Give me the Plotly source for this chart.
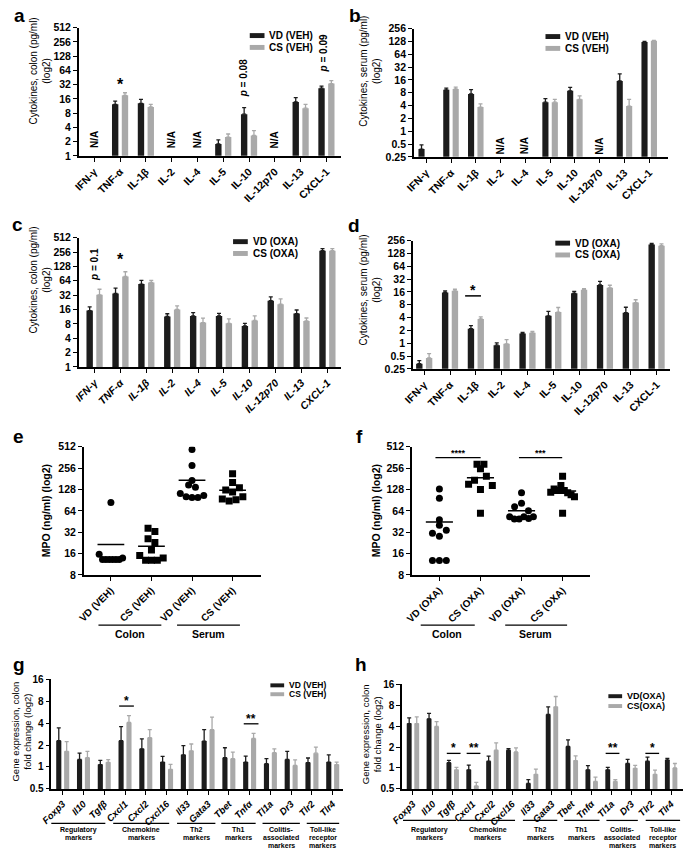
import numpy as np
import plotly.graph_objects as go

W, H = 685, 857
FONT = "Liberation Sans, Arial, Helvetica, sans-serif"
DARK = "#1c1c1c"
LIGHT = "#a9a9a9"

# ---------------------------------------------------------------- data
cytokines = ["IFN-γ", "TNF-α", "IL-1β", "IL-2", "IL-4", "IL-5", "IL-10", "IL-12p70", "IL-13", "CXCL-1"]

# a: colon, vehicle
colon_veh_vd = [None, 12.3, 12.9, None, None, 1.78, 7.6, None, 13.8, 27.0]
colon_veh_vd_err = [0, 2.0, 2.8, 0, 0, 0.4, 2.9, 0, 3.2, 2.7]
colon_veh_cs = [None, 19.0, 10.8, None, None, 2.5, 2.7, None, 10.2, 33.8]
colon_veh_cs_err = [0, 2.6, 1.5, 0, 0, 0.4, 0.7, 0, 2.1, 5.0]
colon_veh_na = ["IFN-γ", "IL-2", "IL-4", "IL-12p70"]

# b: serum, vehicle
serum_veh_vd = [0.38, 9.4, 7.5, None, None, 4.8, 8.9, None, 15.2, 124]
serum_veh_vd_err = [0.1, 0.9, 2.0, 0, 0, 1.0, 1.8, 0, 7.0, 4]
serum_veh_cs = [None, 9.8, 3.7, None, None, 4.8, 5.6, None, 3.9, 133]
serum_veh_cs_err = [0, 1.0, 0.7, 0, 0, 0.8, 1.2, 0, 1.7, 3]
serum_veh_na = ["IL-2", "IL-4", "IL-12p70"]

# c: colon, oxaliplatin
colon_oxa_vd = [15.2, 34.7, 54.5, 11.4, 11.7, 11.7, 7.2, 24.5, 13.1, 273]
colon_oxa_vd_err = [3, 10, 11, 1.6, 2, 1.5, 1.0, 5, 2.5, 30]
colon_oxa_cs = [32.5, 79, 59, 16, 8.5, 8.2, 9.4, 20.6, 9.2, 273]
colon_oxa_cs_err = [10, 20, 6, 3, 2, 2, 2.3, 6, 1.4, 30]

# d: serum, oxaliplatin
serum_oxa_vd = [0.33, 15.6, 2.2, 0.9, 1.7, 4.4, 14.9, 23.3, 5.2, 207]
serum_oxa_vd_err = [0.06, 1.4, 0.4, 0.12, 0.1, 1.2, 1.6, 5, 1.8, 15]
serum_oxa_cs = [0.45, 17, 3.7, 0.97, 1.75, 5.4, 18, 20, 9, 195]
serum_oxa_cs_err = [0.12, 1.5, 0.45, 0.25, 0.15, 1.5, 1.2, 3, 1.5, 20]

# e: MPO, vehicle  (groups: colon VD, colon CS, serum VD, serum CS)
mpo_groups_veh = ["VD (VEH)", "CS (VEH)", "VD (VEH)", "CS (VEH)"]
mpo_colon_veh_vd = [84, 15.6, 13.2, 13.2, 13.2, 13.2, 13.2, 13.2, 13.8]
mpo_colon_veh_cs = [36.3, 32.7, 25.8, 22.9, 17.9, 15, 12.9, 12.9, 12.9, 13.8]
mpo_serum_veh_vd = [470, 279, 171, 148, 138, 112, 101, 98.6, 98.6, 105]
mpo_serum_veh_cs = [213, 161, 125.5, 117.6, 135, 94, 88, 92, 101]

# f: MPO, oxaliplatin
mpo_groups_oxa = ["VD (OXA)", "CS (OXA)", "VD (OXA)", "CS (OXA)"]
mpo_colon_oxa_vd = [130, 96, 48, 40, 31, 28, 34, 12.8, 12.8, 12.8]
mpo_colon_oxa_cs = [290, 290, 250, 151, 172, 128, 196, 146, 59]
mpo_serum_oxa_vd = [115, 73, 82, 64, 53, 49, 49, 53, 50, 53]
mpo_serum_oxa_cs = [196, 117, 130, 124, 146, 124, 115, 108, 101, 59]

# g / h: colon gene expression
genes = ["Foxp3", "Il10", "Tgfβ", "Cxcl1", "Cxcl2", "Cxcl16", "Il33", "Gata3", "Tbet", "Tnfα", "Tl1a", "Dr3", "Tlr2", "Tlr4"]
gene_groups = [["Regulatory", "markers"], ["Chemokine", "markers"], ["Th2", "markers"], ["Th1", "markers"],
               ["Colitis-", "associated", "markers"], ["Toll-like", "receptor", "markers"]]

genes_veh_vd = [2.3, 1.27, 1.08, 2.3, 1.78, 1.17, 1.47, 2.27, 1.34, 1.17, 1.11, 1.27, 1.15, 1.17]
genes_veh_vd_err = [1.15, 0.28, 0.15, 1.3, 0.65, 0.23, 0.5, 1.0, 0.5, 0.24, 0.19, 0.37, 0.18, 0.3]
genes_veh_cs = [1.64, 1.34, 1.16, 4.1, 2.53, 0.93, 1.67, 3.26, 1.3, 2.47, 1.57, 1.05, 1.55, 1.08]
genes_veh_cs_err = [0.6, 0.3, 0.1, 1.0, 0.73, 0.16, 0.4, 1.6, 0.3, 0.43, 0.21, 0.2, 0.33, 0.09]

genes_oxa_vd = [4.36, 5.1, 1.19, 0.94, 1.25, 1.8, 0.6, 5.9, 2.04, 0.94, 0.94, 1.16, 1.25, 1.3]
genes_oxa_vd_err = [0.9, 1.0, 0.1, 0.16, 0.23, 0.1, 0.08, 1.7, 0.5, 0.14, 0.08, 0.17, 0.18, 0.07]
genes_oxa_cs = [4.36, 3.96, 0.94, 0.55, 1.8, 1.7, 0.81, 7.6, 1.28, 0.64, 0.64, 0.99, 0.81, 1.0]
genes_oxa_cs_err = [1.1, 0.7, 0.08, 0.07, 0.5, 0.25, 0.15, 3.1, 0.21, 0.1, 0.04, 0.1, 0.12, 0.16]

# ---------------------------------------------------------------- layout geometry (pixels)
P = {
    "a": dict(n="",  xpx=(68, 335),  ypx=(22, 152),  yr=(1, 512),    xr=(-0.6, 9.57)),
    "b": dict(n="2", xpx=(409, 668), ypx=(23, 153),  yr=(0.25, 256), xr=(-0.5, 9.77)),
    "c": dict(n="3", xpx=(68, 335),  ypx=(235, 366), yr=(1, 512),    xr=(-0.61, 9.53)),
    "d": dict(n="4", xpx=(408, 670), ypx=(238, 368), yr=(0.25, 256), xr=(-0.44, 9.53)),
    "e": dict(n="5", xpx=(73, 253),  ypx=(447, 577), yr=(8, 512),    xr=(0.33, 4.69)),
    "f": dict(n="6", xpx=(407, 588), ypx=(447, 577), yr=(8, 512),    xr=(0.33, 4.66)),
    "g": dict(n="7", xpx=(40, 337),  ypx=(683, 794), yr=(0.5, 16),   xr=(-0.55, 13.5)),
    "h": dict(n="8", xpx=(397, 683), ypx=(688, 794), yr=(0.5, 16),   xr=(-0.55, 13.6)),
}


def X(px):
    return px / W


def Y(py):
    return 1 - py / H


def cx(p, v):
    l, r = P[p]["xpx"]
    r0, r1 = P[p]["xr"]
    return l + (v - r0) / (r1 - r0) * (r - l)


def vy(p, v):
    t, b = P[p]["ypx"]
    lo, hi = P[p]["yr"]
    f = (np.log2(v) - np.log2(lo)) / (np.log2(hi) - np.log2(lo))
    return b - f * (b - t)


def fmt(v):
    return str(int(v)) if v >= 1 else ("%g" % v)


fig = go.Figure()
layout = dict(
    width=W, height=H, margin=dict(l=0, r=0, t=0, b=0),
    paper_bgcolor="white", plot_bgcolor="white", showlegend=False,
    barmode="group", bargap=0.24, bargroupgap=0.35, hovermode=False,
    font=dict(family=FONT, color="black"),
)
annotations = []
shapes = []


def ann(x, y, text, size=10, bold=True, angle=0, xa="center", ya="middle", italic=False):
    annotations.append(dict(
        x=X(x), y=Y(y), xref="paper", yref="paper", text=text, showarrow=False,
        textangle=angle, xanchor=xa, yanchor=ya,
        font=dict(family=FONT, size=size, color="black",
                  weight="bold" if bold else "normal", style="italic" if italic else "normal")))


def hline(x0, x1, y, w=1.5):
    shapes.append(dict(type="line", xref="paper", yref="paper", x0=X(x0), x1=X(x1), y0=Y(y), y1=Y(y),
                       line=dict(color="black", width=w)))


def setup_axes(p, categorical=True, xtickvals=None, xticktext=None, xfont=10.5, xitalic=False, ytfont=10.5):
    n = P[p]["n"]
    lo, hi = P[p]["yr"]
    yt = [lo * 2 ** k for k in range(int(round(np.log2(hi / lo))) + 1)]
    xd = [X(P[p]["xpx"][0]), X(P[p]["xpx"][1])]
    yd = [Y(P[p]["ypx"][1]), Y(P[p]["ypx"][0])]
    common = dict(showline=True, linecolor="black", linewidth=1.5, ticks="outside", ticklen=4,
                  tickwidth=1.3, tickcolor="black", showgrid=False, zeroline=False)
    xa = dict(domain=xd, anchor="y" + n, range=list(P[p]["xr"]), tickangle=-45,
              tickfont=dict(family=FONT, size=xfont, weight="bold", style="italic" if xitalic else "normal"),
              **common)
    if categorical:
        xa["type"] = "category"
    else:
        xa.update(type="linear", tickvals=xtickvals, ticktext=xticktext)
    ya = dict(domain=yd, anchor="x" + n, type="log", range=[np.log10(lo), np.log10(hi)],
              tickvals=yt, ticktext=[fmt(v) for v in yt],
              tickfont=dict(family=FONT, size=ytfont, weight="bold"), **common)
    layout["xaxis" + n] = xa
    layout["yaxis" + n] = ya


def bars(p, cats, vd, vd_err, cs, cs_err, names):
    n = P[p]["n"]
    for vals, errs, col, name in ((vd, vd_err, DARK, names[0]), (cs, cs_err, LIGHT, names[1])):
        fig.add_trace(go.Bar(
            x=cats, y=vals, name=name, marker=dict(color=col, line=dict(width=0)),
            error_y=dict(type="data", array=errs, arrayminus=[0] * len(errs), symmetric=False,
                         color=col, thickness=1.3, width=2),
            xaxis="x" + n, yaxis="y" + n))


def legend(swx, ys, names, size=10.5, sw=15, sh=5):
    for yc, name, col in zip(ys, names, (DARK, LIGHT)):
        shapes.append(dict(type="rect", xref="paper", yref="paper", x0=X(swx), x1=X(swx + sw),
                           y0=Y(yc + sh / 2), y1=Y(yc - sh / 2), fillcolor=col, line=dict(width=0)))
        ann(swx + sw + 3, yc, name, size=size, xa="left")


def swarm(vals, ppu_y=21.6, ppu_x=41.5, tol=4.5, step=7.0, maxw=24.0):
    v = np.asarray(vals, float)
    order = np.argsort(-v, kind="stable")
    ly = np.log2(v) * ppu_y
    clusters = []
    for i in order:
        if clusters and abs(ly[clusters[-1][-1]] - ly[i]) < tol:
            clusters[-1].append(i)
        else:
            clusters.append([i])
    off = np.zeros(len(v))
    for c in clusters:
        c = sorted(c)
        if len(c) > 1:
            w = min(step * (len(c) - 1), maxw)
            for k, xo in zip(c, np.linspace(-w / 2, w / 2, len(c))):
                off[k] = xo / ppu_x
    return off


def dots(p, groups):
    n = P[p]["n"]
    for gi, (vals, sym) in enumerate(groups, start=1):
        off = swarm(vals)
        fig.add_trace(go.Scatter(x=gi + off, y=vals, mode="markers",
                                 marker=dict(symbol=sym, size=7, color="black", line=dict(width=0)),
                                 xaxis="x" + n, yaxis="y" + n))
        m = float(np.mean(vals))
        fig.add_trace(go.Scatter(x=[gi - 0.33, gi + 0.33], y=[m, m], mode="lines",
                                 line=dict(color="black", width=1.5), xaxis="x" + n, yaxis="y" + n))


# ---------------------------------------------------------------- panel a
setup_axes("a")
bars("a", cytokines, colon_veh_vd, colon_veh_vd_err, colon_veh_cs, colon_veh_cs_err, ["VD (VEH)", "CS (VEH)"])
for c in colon_veh_na:
    ann(cx("a", cytokines.index(c)), vy("a", 2.2), "N/A", angle=-90)
ann(cx("a", 1), 80, "*", size=16)
ann(cx("a", 6) - 6, vy("a", 44), "<i>p</i> = 0.08", angle=-90)
ann(cx("a", 9) - 3, vy("a", 150), "<i>p</i> = 0.09", angle=-90)
legend(242, [30, 42], ["VD (VEH)", "CS (VEH)"], size=10)
ann(29, 66, "Cytokines, colon (pg/ml)<br>(log2)", size=10, bold=False, angle=-90)

# ---------------------------------------------------------------- panel b
setup_axes("b")
bars("b", cytokines, serum_veh_vd, serum_veh_vd_err, serum_veh_cs, serum_veh_cs_err, ["VD (VEH)", "CS (VEH)"])
for c in serum_veh_na:
    ann(cx("b", cytokines.index(c)), vy("b", 0.45), "N/A", angle=-90)
legend(543, [31, 43], ["VD (VEH)", "CS (VEH)"], size=10)
ann(364, 66, "Cytokines, serum (pg/ml)<br>(log2)", size=10, bold=False, angle=-90)

# ---------------------------------------------------------------- panel c
setup_axes("c", xitalic=True)
bars("c", cytokines, colon_oxa_vd, colon_oxa_vd_err, colon_oxa_cs, colon_oxa_cs_err, ["VD (OXA)", "CS (OXA)"])
ann(cx("c", 0), 262, "<i>p</i> = 0.1", angle=-90)
ann(cx("c", 1), 257, "*", size=16)
legend(225, [239, 251], ["VD (OXA)", "CS (OXA)"], size=10)
ann(29, 278, "Cytokines, colon (pg/ml)<br>(log2)", size=10, bold=False, angle=-90)

# ---------------------------------------------------------------- panel d
setup_axes("d")
bars("d", cytokines, serum_oxa_vd, serum_oxa_vd_err, serum_oxa_cs, serum_oxa_cs_err, ["VD (OXA)", "CS (OXA)"])
hline(cx("d", 2) - 0.42 * 26, cx("d", 2) + 0.2 * 26, 294)
ann(cx("d", 2) - 3, 288, "*", size=14)
legend(553, [240.5, 252.5], ["VD (OXA)", "CS (OXA)"], size=10)
ann(364, 288, "Cytokines, serum (pg/ml)<br>(log2)", size=10, bold=False, angle=-90)

# ---------------------------------------------------------------- panel e
setup_axes("e", categorical=False, xtickvals=[1, 2, 3, 4], xticktext=mpo_groups_veh, xfont=10)
dots("e", [(mpo_colon_veh_vd, "circle"), (mpo_colon_veh_cs, "square"),
           (mpo_serum_veh_vd, "circle"), (mpo_serum_veh_cs, "square")])
ann(34, 512, "MPO (ng/ml) (log2)", size=10.5, angle=-90)
hline(88, 152, 628, 1.2)
hline(168, 232, 628, 1.2)
ann(120, 637, "Colon", size=10.5)
ann(200, 637, "Serum", size=10.5)

# ---------------------------------------------------------------- panel f
setup_axes("f", categorical=False, xtickvals=[1, 2, 3, 4], xticktext=mpo_groups_oxa, xfont=10)
dots("f", [(mpo_colon_oxa_vd, "circle"), (mpo_colon_oxa_cs, "square"),
           (mpo_serum_oxa_vd, "circle"), (mpo_serum_oxa_cs, "square")])
ann(370, 512, "MPO (ng/ml) (log2)", size=10.5, angle=-90)
hline(431, 477, 458, 1.2)
hline(516, 560, 458, 1.2)
ann(454, 453, "****", size=9)
ann(538, 453, "***", size=9)
hline(416, 471, 628, 1.2)
hline(502, 565, 628, 1.2)
ann(443, 637, "Colon", size=10.5)
ann(533, 637, "Serum", size=10.5)

# ---------------------------------------------------------------- panel g
setup_axes("g", xfont=9.5, xitalic=True, ytfont=10)
bars("g", genes, genes_veh_vd, genes_veh_vd_err, genes_veh_cs, genes_veh_cs_err, ["VD (VEH)", "CS (VEH)"])
hline(cx("g", 3) - 6, cx("g", 3) + 9, 710, 1.3)
ann(cx("g", 3) + 1.5, 705, "*", size=12)
hline(cx("g", 9) - 6, cx("g", 9) + 9, 728, 1.3)
ann(cx("g", 9) + 1.5, 723, "**", size=12)
legend(263, [689, 698], ["VD (VEH)", "CS (VEH)"], size=8.5, sw=14, sh=4)
ann(10, 736, "Gene expression, colon<br>fold change (log2)", size=9.5, bold=False, angle=-90)
g_spans = [(40, 95), (103, 160), (168, 207), (213, 248), (255, 293), (300, 333)]
for (x0, x1), lines in zip(g_spans, gene_groups):
    hline(x0, x1, 829, 1.2)
    for k, t in enumerate(lines):
        ann((x0 + x1) / 2, 835.5 + 8 * k, t, size=7)

# ---------------------------------------------------------------- panel h
setup_axes("h", xfont=9.5, xitalic=True, ytfont=10)
bars("h", genes, genes_oxa_vd, genes_oxa_vd_err, genes_oxa_cs, genes_oxa_cs_err, ["VD(OXA)", "CS(OXA)"])
for gi, st in ((2, "*"), (3, "**"), (10, "**"), (12, "*")):
    hline(cx("h", gi) - 6, cx("h", gi) + 8, 758, 1.3)
    ann(cx("h", gi) + 1, 753, st, size=12)
legend(607, [700, 710], ["VD(OXA)", "CS(OXA)"], size=9, sw=14, sh=4)
ann(366, 739, "Gene expression, colon<br>fold change (log2)", size=9.5, bold=False, angle=-90)
h_spans = [(398, 452), (456, 512), (520, 555), (562, 598), (605, 637), (645, 680)]
for (x0, x1), lines in zip(h_spans, gene_groups):
    hline(x0, x1, 826, 1.2)
    for k, t in enumerate(lines):
        ann((x0 + x1) / 2, 835.5 + 8 * k, t, size=7)

# ---------------------------------------------------------------- panel letters
for letter, (lx, ly) in {"a": (8, 10), "b": (349, 10), "c": (6, 222), "d": (348, 223),
                         "e": (7, 437), "f": (354, 437), "g": (7, 668), "h": (355, 668)}.items():
    ann(lx, ly, letter, size=19)

layout["annotations"] = annotations
layout["shapes"] = shapes
fig.update_layout(**layout)
fig.write_html("out.html", config={"displayModeBar": False},
               post_script="document.body.style.margin='0px';")
